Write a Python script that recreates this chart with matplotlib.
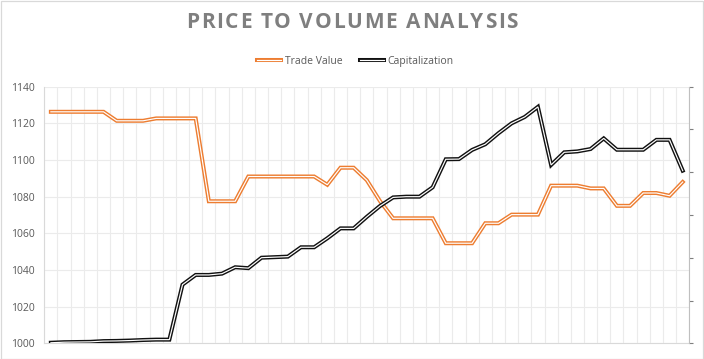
import matplotlib
matplotlib.use("Agg")
import matplotlib.pyplot as plt
import matplotlib.patheffects as pe
from matplotlib.patches import Rectangle
from matplotlib.font_manager import FontProperties
import numpy as np

plt.rcParams['font.family'] = ['Open Sans', 'DejaVu Sans']

title = "PRICE TO VOLUME ANALYSIS"
series_names = ["Trade Value", "Capitalization"]

trade_value = [1126.3, 1126.3, 1126.3, 1126.3, 1126.3, 1121.4, 1121.4, 1121.4, 1122.7, 1122.7,
               1122.7, 1122.7, 1077.5, 1077.5, 1077.5, 1091.0, 1091.0, 1091.0, 1091.0, 1091.0,
               1091.0, 1086.5, 1095.8, 1095.8, 1089.0, 1077.6, 1068.2, 1068.2, 1068.2, 1068.2,
               1054.6, 1054.6, 1054.6, 1065.5, 1065.5, 1070.2, 1070.2, 1070.2, 1086.0, 1086.0,
               1086.0, 1084.5, 1084.5, 1075.0, 1075.0, 1082.0, 1082.0, 1080.5, 1088.0]

capitalization = [1000.3, 1000.6, 1000.7, 1000.8, 1001.2, 1001.3, 1001.5, 1001.8, 1002.0, 1002.0,
                  1032.0, 1037.3, 1037.3, 1038.0, 1041.5, 1041.0, 1046.7, 1047.0, 1047.3, 1052.4,
                  1052.4, 1057.3, 1062.7, 1062.7, 1069.0, 1074.9, 1079.6, 1080.0, 1080.0, 1085.1,
                  1100.4, 1100.5, 1105.5, 1108.6, 1114.6, 1120.0, 1123.5, 1129.0, 1097.3, 1104.2,
                  1104.7, 1106.0, 1111.8, 1105.6, 1105.6, 1105.6, 1111.0, 1111.0, 1094.2]

y_ticks = [1000, 1020, 1040, 1060, 1080, 1100, 1120, 1140]

orange = "#ED7D31"
black = "#111111"
grid_c = "#EBEBEB"
text_c = "#595959"

W, H = 704, 359
fig = plt.figure(figsize=(W / 100, H / 100), dpi=100)
fig.patch.set_facecolor("white")
fig.patches.append(Rectangle((0.5 / W, 0.5 / H), 1 - 1.5 / W, 1 - 1.5 / H, transform=fig.transFigure,
                             fill=False, edgecolor="#D9D9D9", linewidth=0.9, zorder=0))

left, right, top, bottom = 44.3, 689.3, 86.7, 343.3
ax = fig.add_axes([left / W, 1 - bottom / H, (right - left) / W, (bottom - top) / H])

n = len(trade_value)
x = np.arange(n)

ax.set_xlim(-0.5, n - 0.5)
ax.set_ylim(1000, 1140)
ax.set_yticks(y_ticks)
ax.set_xticks(np.arange(-0.5, n, 1.0))
ax.set_xticklabels([])
ax.tick_params(axis='x', length=0)
ax.tick_params(axis='y', length=0, labelsize=7.5, labelcolor=text_c, pad=7)
ax.grid(True, color=grid_c, linewidth=0.8)
ax.set_axisbelow(True)
ax.spines['top'].set_visible(False)
ax.spines['left'].set_color("#D9D9D9")
ax.spines['bottom'].set_color("#D9D9D9")
ax.spines['right'].set_visible(False)

def dbl(color):
    return [pe.Stroke(linewidth=2.9, foreground=color), pe.Normal()]

l1, = ax.plot(x, trade_value, color="white", linewidth=0.85, solid_joinstyle='miter',
              path_effects=dbl(orange), label=series_names[0], zorder=3)
l2, = ax.plot(x, capitalization, color="white", linewidth=0.85, solid_joinstyle='miter',
              path_effects=dbl(black), label=series_names[1], zorder=4)

ax2 = ax.twinx()
ax2.set_ylim(0, 6)
ax2.set_yticks(range(7))
ax2.set_yticklabels([])
ax2.tick_params(axis='y', direction='out', length=3, width=0.8, color="#7F7F7F")
for s in ['top', 'left', 'bottom']:
    ax2.spines[s].set_visible(False)
ax2.spines['right'].set_color("#BFBFBF")

leg = fig.legend(handles=[l1, l2], loc='center', bbox_to_anchor=(0.505, 1 - 61.5 / H), ncol=2,
                 frameon=False, fontsize=7.5, handlelength=2.3, columnspacing=1.6,
                 handletextpad=0.4, labelcolor=text_c)

# Title with letter spacing
fig.canvas.draw()
renderer = fig.canvas.get_renderer()
fp = FontProperties(family=['Open Sans', 'DejaVu Sans'], weight='bold', size=15)
widths = []
for ch in title:
    if ch == ' ':
        widths.append(15 * 100 / 72 * 0.26)
    else:
        w, h, d = renderer.get_text_width_height_descent(ch, fp, ismath=False)
        widths.append(w)
target = 332.0
gap = (target - sum(widths)) / (len(title) - 1)
xpos = (W - target) / 2
ty = 1 - 22.5 / H
for ch, w in zip(title, widths):
    if ch != ' ':
        fig.text(xpos / W, ty, ch, fontproperties=fp, color="#7F7F7F", ha='left', va='center')
    xpos += w + gap

fig.savefig("out.png", dpi=100, facecolor="white")
